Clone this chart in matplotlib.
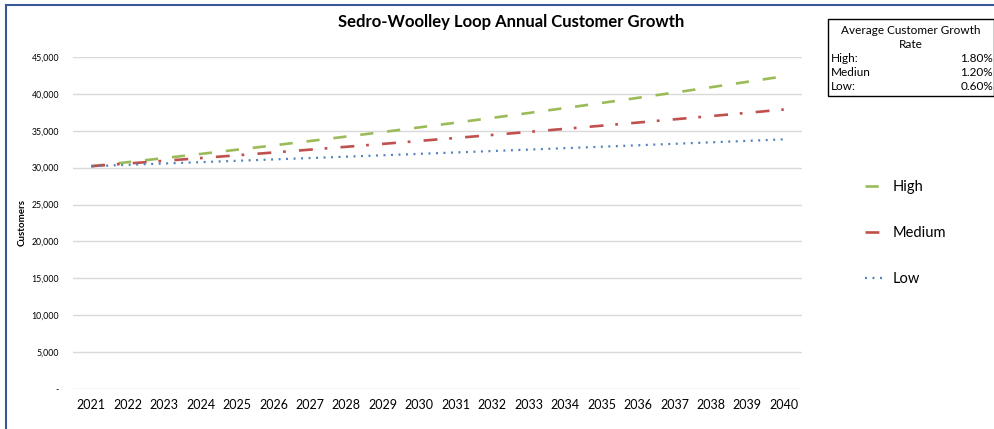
import matplotlib.pyplot as plt
from matplotlib.patches import Rectangle
from matplotlib.lines import Line2D
from matplotlib.ticker import FuncFormatter

plt.rcParams["font.family"] = ["Lato", "DejaVu Sans"]
plt.rcParams["lines.scale_dashes"] = False

# 年份与三种增长情景的客户数
years = list(range(2021, 2041))
high = [30200, 30744, 31297, 31860, 32434, 33018, 33612, 34217, 34833, 35460,
        36098, 36748, 37410, 38083, 38768, 39466, 40177, 40900, 41636, 42385]
medium = [30200, 30562, 30929, 31300, 31676, 32056, 32441, 32830, 33224, 33623,
          34026, 34434, 34848, 35266, 35689, 36117, 36551, 36989, 37433, 37882]
low = [30200, 30381, 30564, 30747, 30931, 31117, 31304, 31492, 31681, 31871,
       32062, 32254, 32448, 32643, 32838, 33035, 33234, 33433, 33634, 33836]
rate_names = ["High:", "Mediun", "Low:"]
rate_values = ["1.80%", "1.20%", "0.60%"]

W, H = 995, 429
fig = plt.figure(figsize=(W / 100, H / 100), dpi=100)
ax = fig.add_axes([73 / W, 1 - 389 / H, (802 - 73) / W, (389 - 57) / H])

ax.plot(years, high, color="#9BBB59", lw=1.9, dashes=(9.5, 10), label="High")
ax.plot(years, medium, color="#C0504D", lw=1.9, dashes=(10, 8.5, 2, 9.5), label="Medium")
ax.plot(years, low, color="#4F81BD", lw=1.6, dashes=(1.4, 4), label="Low")

ax.set_xlim(2020.5, 2040.5)
ax.set_ylim(0, 45000)
ax.set_xticks(years)
ax.set_yticks(range(0, 45001, 5000))
ax.yaxis.set_major_formatter(FuncFormatter(lambda v, p: "-" if v == 0 else "{:,.0f}".format(v)))
ax.tick_params(axis="y", length=0, labelsize=6.3, pad=10)
ax.tick_params(axis="x", length=0, labelsize=9, pad=7)
ax.grid(axis="y", color="#d9d9d9", lw=1)
ax.set_axisbelow(True)
for s in ax.spines.values():
    s.set_visible(False)

fig.text(511 / W, 1 - 22 / H, "Sedro-Woolley Loop Annual Customer Growth",
         ha="center", va="center", fontsize=12, fontweight="bold")
fig.text(22 / W, 1 - 222 / H, "Customers", rotation=90, ha="center", va="center",
         fontsize=7, fontweight="bold")

fig.legend(loc="upper left", bbox_to_anchor=(852 / W, 1 - 167 / H), frameon=False,
           fontsize=10.5, labelspacing=2.2, handlelength=1.3, handletextpad=0.6)

# 平均增长率表格
fig.patches.append(Rectangle((828 / W, 1 - 96 / H), (994 - 828) / W, (96 - 19) / H,
                             transform=fig.transFigure, fill=False, ec="black", lw=1))
fig.text(911 / W, 1 - 30 / H, "Average Customer Growth", ha="center", va="center", fontsize=8.5)
fig.text(911 / W, 1 - 44 / H, "Rate", ha="center", va="center", fontsize=8.5)
for i, (n, v) in enumerate(zip(rate_names, rate_values)):
    y = 1 - (59 + 13.5 * i) / H
    fig.text(831 / W, y, n, ha="left", va="center", fontsize=8.5)
    fig.text(993 / W, y, v, ha="right", va="center", fontsize=8.5)

# 外框蓝线
fig.lines.append(Line2D([6 / W, 6 / W], [0, 1 - 5 / H], transform=fig.transFigure, color="#3B5998", lw=1.5))
fig.lines.append(Line2D([6 / W, 1], [1 - 5 / H, 1 - 5 / H], transform=fig.transFigure, color="#3B5998", lw=1.5))

plt.savefig("out.png", dpi=100)
